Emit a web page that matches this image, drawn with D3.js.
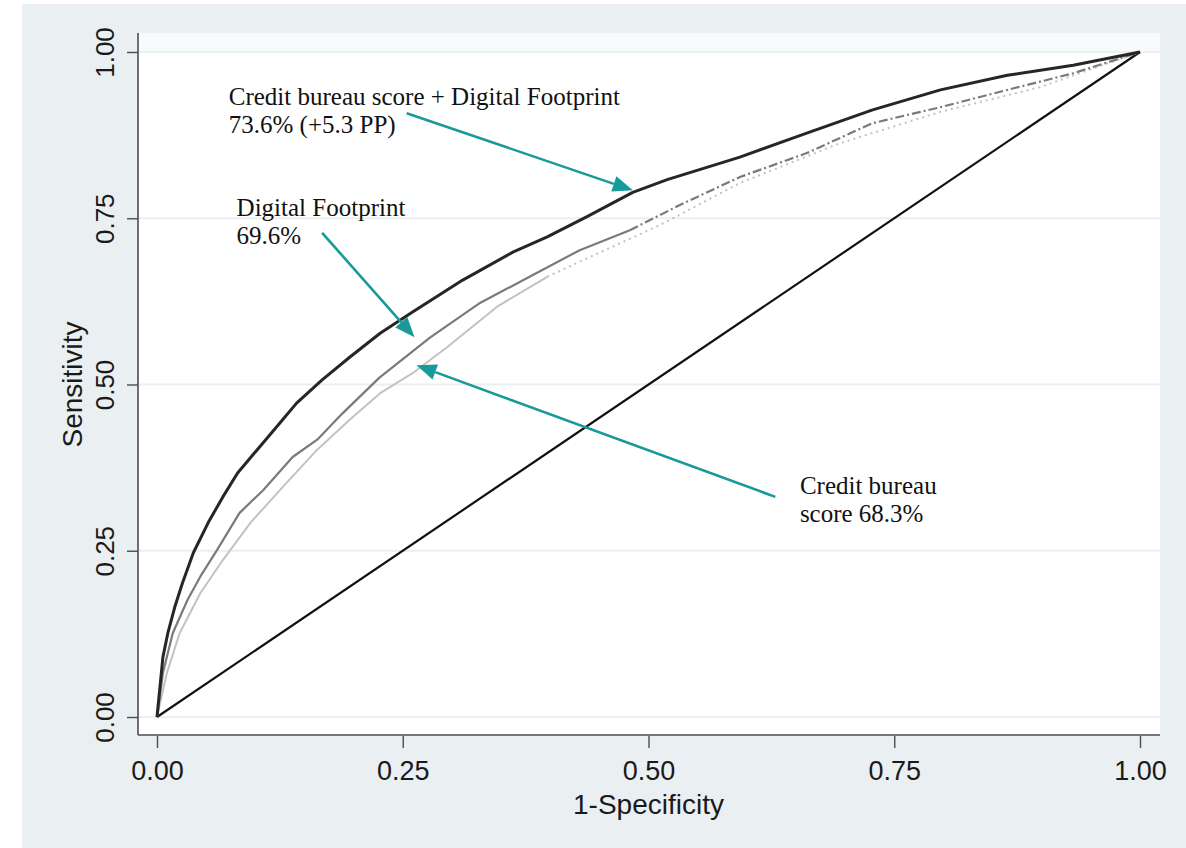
<!DOCTYPE html>
<html><head><meta charset="utf-8">
<script src="https://cdn.jsdelivr.net/npm/d3@7"></script>
<style>html,body{margin:0;padding:0;background:#fff;}svg{display:block;}</style>
</head><body>
<svg id="chart" width="1186" height="848"></svg>
<script>
// ---------- data ----------
const tickValues = [0, 0.25, 0.5, 0.75, 1];
const tickLabels = ["0.00", "0.25", "0.50", "0.75", "1.00"];

// Credit bureau score + Digital Footprint (AUC 73.6%)
const combinedX = [0,0.006,0.011,0.018,0.026,0.037,0.052,0.067,0.082,0.102,0.125,0.142,0.168,0.196,0.227,0.260,0.311,0.362,0.397,0.437,0.484,0.519,0.593,0.661,0.728,0.797,0.865,0.932,1];
const combinedY = [0,0.090,0.126,0.165,0.202,0.247,0.292,0.331,0.367,0.402,0.442,0.472,0.507,0.541,0.577,0.609,0.657,0.699,0.722,0.752,0.789,0.808,0.842,0.878,0.913,0.943,0.965,0.980,1];

// Digital Footprint (AUC 69.6%)
const digitalX = [0,0.006,0.016,0.031,0.044,0.061,0.084,0.108,0.138,0.163,0.189,0.226,0.278,0.329,0.379,0.430,0.481,0.532,0.593,0.661,0.728,0.797,0.865,0.932,1];
const digitalY = [0,0.066,0.126,0.176,0.211,0.251,0.307,0.341,0.391,0.417,0.457,0.510,0.571,0.623,0.662,0.702,0.732,0.770,0.812,0.848,0.893,0.917,0.943,0.968,1];

// Credit bureau score (AUC 68.3%)
const bureauX = [0,0.010,0.023,0.044,0.067,0.095,0.128,0.163,0.196,0.227,0.260,0.295,0.346,0.397,0.451,0.512,0.593,0.695,0.797,0.898,1];
const bureauY = [0,0.066,0.126,0.186,0.236,0.292,0.346,0.402,0.447,0.487,0.517,0.556,0.617,0.662,0.699,0.740,0.803,0.863,0.910,0.947,1];

// reference (chance) line
const diagX = [0, 1];
const diagY = [0, 1];

// annotations: label lines, text anchor, arrow tail and tip (data coords)
const annLines = [
  ["Credit bureau score + Digital Footprint", "73.6% (+5.3 PP)"],
  ["Digital Footprint", "69.6%"],
  ["Credit bureau", "score 68.3%"]
];
const annTextX = [0.073, 0.081, 0.654];
const annTextY = [0.920, 0.753, 0.335];
const arrowTailX = [0.254, 0.168, 0.629];
const arrowTailY = [0.908, 0.728, 0.331];
const arrowTipX = [0.484, 0.262, 0.264];
const arrowTipY = [0.792, 0.571, 0.529];

const xTitle = "1-Specificity";
const yTitle = "Sensitivity";

// ---------- drawing ----------
const svg = d3.select("#chart");
const W = 1186, H = 848;
const x = d3.scaleLinear().domain([0, 1]).range([157, 1140]);
const y = d3.scaleLinear().domain([0, 1]).range([717, 52]);

const plotL = x(0) - 19, plotR = x(1) + 20, plotT = y(1) - 19, plotB = y(0) + 18;

// outer graph region
svg.append("rect").attr("x", 22).attr("y", 4).attr("width", W - 22).attr("height", H - 4)
  .attr("fill", "#eaeff2");
// plot region
svg.append("rect").attr("x", plotL).attr("y", plotT).attr("width", plotR - plotL).attr("height", plotB - plotT)
  .attr("fill", "#ffffff");
svg.append("rect").attr("x", plotL).attr("y", plotT).attr("width", plotR - plotL).attr("height", y(1) - plotT)
  .attr("fill", "#f8fbfc");

// gridlines
svg.append("g").selectAll("line").data(tickValues).join("line")
  .attr("x1", plotL).attr("x2", plotR)
  .attr("y1", d => y(d)).attr("y2", d => y(d))
  .attr("stroke", "#eaeff1").attr("stroke-width", 2);

// axes
const fmt = (d) => tickLabels[tickValues.indexOf(d)];
const xAxis = d3.axisBottom(x).tickValues(tickValues).tickFormat(fmt).tickSize(13).tickSizeOuter(0).tickPadding(8);
const yAxis = d3.axisLeft(y).tickValues(tickValues).tickFormat(fmt).tickSize(11).tickSizeOuter(0).tickPadding(8);

const gx = svg.append("g").attr("transform", `translate(0,${plotB})`).call(xAxis);
gx.select(".domain").attr("d", `M${plotL},0H${plotR}`).attr("stroke", "#4d4d4d").attr("stroke-width", 1.6);
gx.selectAll(".tick line").attr("stroke", "#4d4d4d").attr("stroke-width", 1.4).attr("y1", 1);
gx.selectAll(".tick text").attr("font-family", "'Liberation Sans', Arial, sans-serif")
  .attr("font-size", 27).attr("fill", "#1a1a1a").attr("dy", null).attr("y", 45);

const gy = svg.append("g").attr("transform", `translate(${plotL},0)`).call(yAxis);
gy.select(".domain").attr("d", `M0,${plotT}V${plotB}`).attr("stroke", "#4d4d4d").attr("stroke-width", 1.6);
gy.selectAll(".tick line").attr("stroke", "#4d4d4d").attr("stroke-width", 1.4);
gy.selectAll(".tick text").attr("font-family", "'Liberation Sans', Arial, sans-serif")
  .attr("font-size", 26).attr("fill", "#1a1a1a")
  .attr("x", null).attr("dy", null).attr("text-anchor", "middle")
  .attr("transform", "translate(-24,0) rotate(-90)");

// axis titles
svg.append("text").attr("x", (x(0) + x(1)) / 2).attr("y", 814)
  .attr("text-anchor", "middle").attr("font-family", "'Liberation Sans', Arial, sans-serif")
  .attr("font-size", 28).attr("fill", "#1a1a1a").text(xTitle);
svg.append("text").attr("transform", `translate(82,${y(0.5)}) rotate(-90)`)
  .attr("text-anchor", "middle").attr("font-family", "'Liberation Sans', Arial, sans-serif")
  .attr("font-size", 28).attr("fill", "#1a1a1a").text(yTitle);

// curves
const line = d3.line().x(d => x(d[0])).y(d => y(d[1]));
const zip = (xs, ys) => xs.map((v, i) => [v, ys[i]]);

svg.append("path").datum(zip(diagX, diagY)).attr("d", line)
  .attr("fill", "none").attr("stroke", "#111").attr("stroke-width", 2.2);

function drawCurve(xs, ys, color, width, split, dash) {
  const pts = zip(xs, ys);
  const lower = pts.filter(p => p[0] <= split);
  const upper = pts.filter(p => p[0] >= lower[lower.length - 1][0]);
  svg.append("path").datum(lower).attr("d", line)
    .attr("fill", "none").attr("stroke", color).attr("stroke-width", width)
    .attr("stroke-linejoin", "round");
  svg.append("path").datum(upper).attr("d", line)
    .attr("fill", "none").attr("stroke", color).attr("stroke-width", width)
    .attr("stroke-linejoin", "round").attr("stroke-dasharray", dash);
}
drawCurve(bureauX, bureauY, "#c2c2c2", 2, 0.40, "2,4");
drawCurve(digitalX, digitalY, "#7a7a7a", 2.2, 0.53, "9,3,2,3");
drawCurve(combinedX, combinedY, "#262626", 3, 2, null);

// arrows
const teal = "#179a99";
annLines.forEach((lines, i) => {
  const x1 = x(arrowTailX[i]), y1 = y(arrowTailY[i]);
  const x2 = x(arrowTipX[i]), y2 = y(arrowTipY[i]);
  const ang = Math.atan2(y2 - y1, x2 - x1);
  const L = 20, Wd = 8;
  const bx = x2 - L * Math.cos(ang), by = y2 - L * Math.sin(ang);
  svg.append("line").attr("x1", x1).attr("y1", y1).attr("x2", bx).attr("y2", by)
    .attr("stroke", teal).attr("stroke-width", 2.6);
  const px = -Math.sin(ang), py = Math.cos(ang);
  svg.append("path")
    .attr("d", `M${x2},${y2}L${bx + px * Wd},${by + py * Wd}L${bx - px * Wd},${by - py * Wd}Z`)
    .attr("fill", teal);

  const t = svg.append("text").attr("x", x(annTextX[i])).attr("y", y(annTextY[i]))
    .attr("font-family", "'Liberation Serif', 'Times New Roman', serif")
    .attr("font-size", 25).attr("fill", "#111");
  lines.forEach((s, j) => t.append("tspan").attr("x", x(annTextX[i])).attr("dy", j === 0 ? 0 : 28).text(s));
});
</script>
</body></html>
